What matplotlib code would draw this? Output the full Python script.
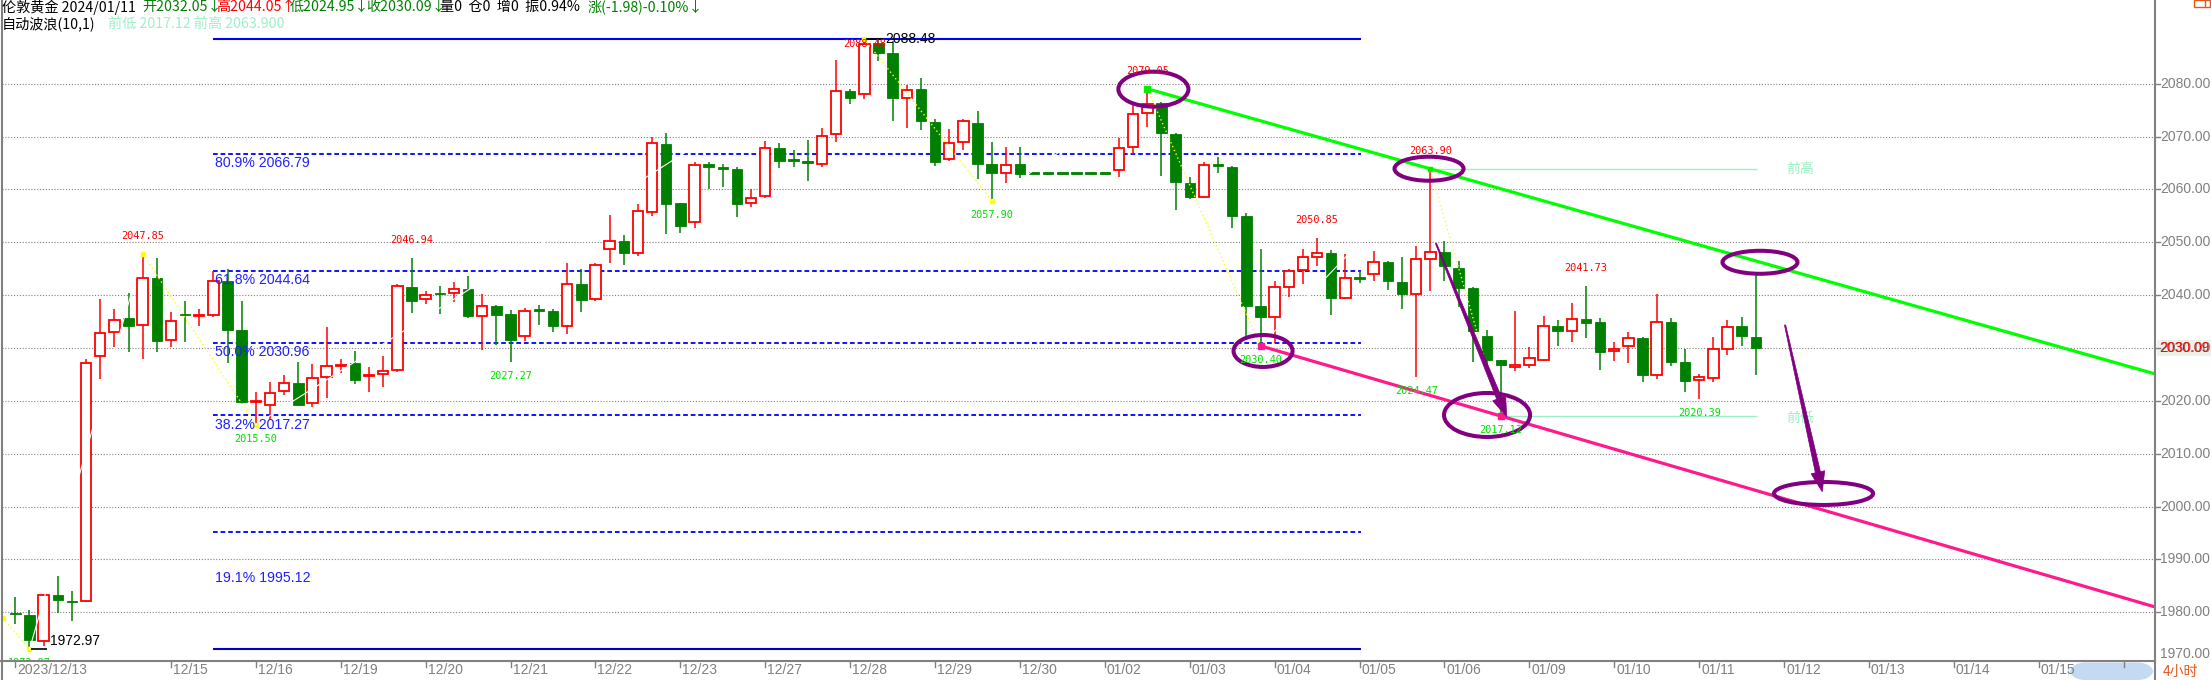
import numpy as np
import matplotlib
matplotlib.use("Agg")
import matplotlib.pyplot as plt
import matplotlib.transforms as mtransforms
from matplotlib.patches import Rectangle, Ellipse, Polygon, FancyBboxPatch
from matplotlib.lines import Line2D

W, H, DPI = 2211, 680, 100

# ---------------- London gold, 4-hour bars ----------------
opens = [1979.8, 1979.5, 1974.6, 1983.3, 1982.1, 1982.2, 2028.5, 2033.0, 2035.6, 2034.3,
         2043.3, 2031.5, 2036.4, 2036.1, 2036.2, 2042.7, 2033.4, 2019.8, 2019.2, 2021.9,
         2023.4, 2019.6, 2024.6, 2026.6, 2027.2, 2024.7, 2025.0, 2025.8, 2041.5, 2039.2,
         2040.4, 2040.4, 2041.2, 2036.1, 2038.0, 2036.4, 2032.2, 2037.2, 2037.0, 2034.2,
         2042.1, 2039.2, 2048.7, 2050.2, 2047.9, 2055.8, 2068.6, 2057.4, 2053.8, 2064.8,
         2064.1, 2063.9, 2057.4, 2058.7, 2067.8, 2065.6, 2065.2, 2064.9, 2070.4, 2078.6,
         2078.0, 2087.8, 2085.9, 2077.3, 2079.0, 2072.7, 2065.7, 2068.9, 2072.5, 2064.9,
         2063.2, 2064.9, 2063.0, 2063.0, 2063.0, 2063.0, 2063.0, 2063.0, 2063.7, 2068.0,
         2074.4, 2076.3, 2070.4, 2061.2, 2058.6, 2064.7, 2064.2, 2055.0, 2038.0, 2035.9,
         2041.6, 2044.8, 2047.3, 2048.0, 2039.4, 2043.3, 2044.0, 2046.3, 2042.4, 2040.2,
         2046.8, 2048.1, 2045.1, 2041.3, 2032.3, 2027.8, 2026.5, 2026.7, 2027.7, 2034.2,
         2033.3, 2035.4, 2034.9, 2029.4, 2030.3, 2031.9, 2024.9, 2034.9, 2027.4, 2024.0,
         2024.3, 2029.9, 2034.2, 2032.05]
highs = [1982.9, 1980.4, 1983.4, 1986.9, 1984.0, 2027.9, 2039.3, 2037.4, 2040.4, 2047.85,
         2047.0, 2036.8, 2038.8, 2037.4, 2044.6, 2045.0, 2038.8, 2021.7, 2023.6, 2024.9,
         2027.4, 2027.0, 2033.9, 2027.9, 2029.4, 2026.5, 2028.5, 2042.2, 2046.94, 2040.8,
         2041.7, 2042.5, 2043.6, 2040.2, 2038.1, 2037.2, 2037.6, 2038.1, 2037.4, 2046.1,
         2045.0, 2046.1, 2055.2, 2051.4, 2057.2, 2070.0, 2070.6, 2057.4, 2065.2, 2065.2,
         2064.8, 2064.3, 2060.0, 2069.1, 2068.7, 2067.4, 2069.3, 2071.7, 2084.5, 2079.0,
         2088.48, 2088.3, 2088.1, 2079.7, 2081.0, 2073.3, 2071.5, 2073.3, 2074.8, 2068.9,
         2068.1, 2068.0, 2063.0, 2063.0, 2063.0, 2063.0, 2063.0, 2063.0, 2069.8, 2076.1,
         2079.05, 2076.6, 2070.7, 2062.3, 2065.2, 2066.1, 2064.4, 2055.6, 2048.7, 2042.6,
         2044.9, 2048.7, 2050.85, 2048.5, 2047.8, 2044.6, 2048.4, 2046.5, 2047.3, 2049.3,
         2063.90, 2050.3, 2046.5, 2041.5, 2033.4, 2027.8, 2037.0, 2030.1, 2036.1, 2035.3,
         2038.5, 2041.73, 2035.6, 2031.1, 2033.0, 2032.0, 2040.2, 2035.6, 2029.8, 2025.0,
         2032.0, 2035.3, 2035.8, 2044.05]
lows = [1977.7, 1972.97, 1973.6, 1979.9, 1978.3, 1982.0, 2024.1, 2030.2, 2029.3, 2027.9,
        2029.3, 2030.2, 2031.2, 2034.2, 2035.9, 2027.1, 2019.5, 2015.50, 2016.4, 2021.1,
        2019.2, 2018.9, 2020.6, 2025.3, 2023.2, 2021.6, 2022.7, 2025.4, 2036.7, 2038.4,
        2036.5, 2038.7, 2035.7, 2029.6, 2030.6, 2027.27, 2031.3, 2034.4, 2033.0, 2032.7,
        2036.8, 2038.9, 2046.0, 2045.7, 2047.4, 2055.0, 2051.5, 2051.8, 2052.8, 2060.0,
        2060.5, 2054.7, 2056.6, 2058.4, 2064.0, 2064.3, 2061.6, 2064.3, 2069.0, 2076.2,
        2077.1, 2084.3, 2073.0, 2071.7, 2071.2, 2064.5, 2065.4, 2067.4, 2062.0, 2057.90,
        2061.3, 2062.2, 2063.0, 2063.0, 2063.0, 2063.0, 2063.0, 2063.0, 2062.4, 2066.7,
        2071.9, 2062.5, 2056.2, 2058.2, 2058.4, 2063.2, 2052.8, 2032.0, 2030.40, 2030.9,
        2039.7, 2042.1, 2045.5, 2036.3, 2039.2, 2042.3, 2042.6, 2041.0, 2037.3, 2024.47,
        2040.7, 2042.7, 2037.7, 2027.4, 2026.8, 2017.12, 2025.7, 2026.2, 2027.6, 2030.4,
        2031.2, 2031.8, 2025.9, 2027.6, 2027.2, 2023.6, 2024.1, 2026.6, 2021.6, 2020.39,
        2023.6, 2028.7, 2030.3, 2024.95]
closes = [1979.6, 1974.7, 1983.3, 1982.3, 1981.9, 2027.1, 2032.8, 2035.3, 2034.2, 2043.2,
          2031.4, 2035.1, 2036.2, 2036.3, 2042.6, 2033.4, 2019.8, 2020.0, 2021.5, 2023.3,
          2019.3, 2024.3, 2026.6, 2026.8, 2024.0, 2024.9, 2025.6, 2041.7, 2038.8, 2040.0,
          2040.2, 2041.1, 2036.1, 2037.9, 2036.3, 2031.5, 2037.0, 2037.0, 2034.2, 2042.1,
          2039.1, 2045.7, 2050.2, 2047.9, 2055.9, 2068.7, 2057.3, 2053.0, 2064.7, 2064.3,
          2063.9, 2057.3, 2058.3, 2067.8, 2065.4, 2065.4, 2065.0, 2070.2, 2078.6, 2077.3,
          2087.6, 2085.8, 2077.3, 2078.9, 2073.0, 2065.2, 2068.7, 2072.9, 2064.8, 2063.2,
          2064.7, 2063.0, 2063.0, 2063.0, 2063.0, 2063.0, 2063.0, 2063.0, 2067.8, 2074.2,
          2076.1, 2070.6, 2061.5, 2058.6, 2064.7, 2064.5, 2055.0, 2038.0, 2035.9, 2041.5,
          2044.6, 2047.3, 2047.9, 2039.5, 2043.2, 2043.1, 2046.2, 2042.7, 2040.2, 2046.8,
          2048.1, 2045.5, 2041.3, 2033.2, 2027.8, 2026.7, 2026.7, 2028.1, 2034.2, 2033.3,
          2035.4, 2034.8, 2029.3, 2029.8, 2031.9, 2024.8, 2034.9, 2027.4, 2023.8, 2024.5,
          2029.8, 2034.0, 2032.3, 2030.09]

date_ticks = [0, 11, 17, 23, 29, 35, 41, 47, 53, 59, 65, 71, 77, 83, 89, 95, 101, 107,
              113, 119, 125, 131, 137, 143, 149]
date_labels = ["2023/12/13", "12/15", "12/16", "12/19", "12/20", "12/21", "12/22", "12/23",
               "12/27", "12/28", "12/29", "12/30", "01/02", "01/03", "01/04", "01/05",
               "01/06", "01/09", "01/10", "01/11", "01/12", "01/13", "01/14", "01/15", ""]

price_grid = [1980, 1990, 2000, 2010, 2020, 2030, 2040, 2050, 2060, 2070, 2080]
price_labels = [1970, 1980, 1990, 2000, 2010, 2020, 2030, 2040, 2050, 2060, 2070, 2080]
last_price = 2030.09

# Fibonacci retracement of the 1972.97 -> 2088.48 swing
range_high = 2088.48
range_low = 1972.97
fib_pcts = ["80.9%", "61.8%", "50.0%", "38.2%", "19.1%"]
fib_levels = [2066.79, 2044.64, 2030.96, 2017.27, 1995.12]
fib_start, fib_end = 14, 95.1

# swing highs / lows with their printed values
swing_hi_idx = [9, 28, 60, 80, 92, 100, 111]
swing_hi_val = [2047.85, 2046.94, 2088.48, 2079.05, 2050.85, 2063.90, 2041.73]
swing_lo_idx = [17, 35, 69, 88, 99, 105, 119]
swing_lo_val = [2015.50, 2027.27, 2057.90, 2030.40, 2024.47, 2017.12, 2020.39]

# automatic wave zig-zag
wave_idx = [-0.9, 1, 9, 17, 60, 69, 80, 88, 100, 105]
wave_val = [1979.0, 1972.97, 2047.85, 2015.50, 2088.48, 2057.90, 2079.05, 2030.40, 2063.90, 2017.12]

# channel anchors
upper_anchor_idx, upper_anchor_val = [80, 100], [2079.05, 2063.90]
lower_anchor_idx, lower_anchor_val = [88, 105], [2030.40, 2017.12]
prev_high, prev_low = 2063.90, 2017.12

# ---------------- figure / axes geometry ----------------
fig = plt.figure(figsize=(W / DPI, H / DPI), dpi=DPI)
fig.patch.set_facecolor("white")

PL, PR, PB = 1.7, 2155.0, 661.0          # plot area edges in pixels
XSTEP, X0 = 14.15, 15.3                   # pixels per bar, centre of bar 0
YSTEP, PREF, YREF = 5.2857, 2050.0, 242.3 # pixels per dollar, reference level

ax = fig.add_axes([PL / W, 1 - PB / H, (PR - PL) / W, PB / H])
ax.set_axis_off()
ax.set_xlim((PL - X0) / XSTEP, (PR - X0) / XSTEP)
ax.set_ylim(PREF - (PB - YREF) / YSTEP, PREF + YREF / YSTEP)
XMAX = ax.get_xlim()[1]

def fx(x):
    return x / W

def fy(y):
    return 1 - y / H

fig_y_data = mtransforms.blended_transform_factory(fig.transFigure, ax.transData)
data_x_fig = mtransforms.blended_transform_factory(ax.transData, fig.transFigure)

GRAY = "#808080"
RED = "#ff0000"
GREEN = "#008000"
BLUE = "#1f1fff"
LIGHT = "#9cf0c6"
PURPLE = "#800080"
CJK = ["Noto Sans CJK SC", "DejaVu Sans"]
SANS = "Liberation Sans"
MONO = "DejaVu Sans Mono"

# horizontal dotted grid
for v in price_grid:
    ax.axhline(v, color=GRAY, lw=0.8, ls=(0, (1, 1.6)), zorder=1)

# Fibonacci levels and range lines
fib_text_drop = [9.5, 9.5, 9.5, 9.5, 46.0]   # label distance below its level, px
for pct, lv, drop in zip(fib_pcts, fib_levels, fib_text_drop):
    ax.hlines(lv, fib_start, fib_end, colors="#0000ff", lw=1.3, linestyles=(0, (2.6, 1.6)), zorder=2)
    ax.annotate(f"{pct} {lv:.2f}", xy=(fib_start, lv), xytext=(1, -drop * 0.72),
                textcoords="offset points", ha="left", va="center", color=BLUE,
                fontsize=10.2, family=SANS, zorder=7)
ax.hlines([range_high, range_low], fib_start, fib_end, colors=["#0000ff", "#0000cc"], lw=1.5, zorder=2)

# previous high / low guides
ax.hlines(prev_high, 100, 123.1, colors=LIGHT, lw=1.0, zorder=2)
ax.hlines(prev_low, 105, 123.1, colors=LIGHT, lw=1.0, zorder=2)
ax.annotate("前高", xy=(123.1, prev_high), xytext=(29 * 0.72, 0), textcoords="offset points",
            ha="left", va="center", color=LIGHT, fontsize=10, family=CJK, zorder=7)
ax.annotate("前低", xy=(123.1, prev_low), xytext=(29 * 0.72, -2 * 0.72), textcoords="offset points",
            ha="left", va="center", color=LIGHT, fontsize=10, family=CJK, zorder=5)

# candlesticks
BW = 0.74
for i, (o, h, l, c) in enumerate(zip(opens, highs, lows, closes)):
    if c >= o and h != l:
        ax.vlines(i, c, h, color=RED, lw=1.1, zorder=3)
        ax.vlines(i, l, o, color=RED, lw=1.1, zorder=3)
        ax.add_patch(Rectangle((i - BW / 2, o), BW, max(c - o, 0.12), facecolor="white",
                               edgecolor=RED, lw=1.3, zorder=3))
    else:
        ax.vlines(i, l, h, color=GREEN, lw=1.1, zorder=3)
        ax.add_patch(Rectangle((i - BW / 2, c), BW, max(o - c, 0.3), facecolor=GREEN,
                               edgecolor=GREEN, lw=0.6, zorder=3))

# zig-zag: falling legs dotted yellow, rising legs in white
for k in range(len(wave_idx) - 1):
    xs = wave_idx[k:k + 2]
    ys = wave_val[k:k + 2]
    if ys[1] < ys[0]:
        ax.plot(xs, ys, color="#ffff00", lw=1.0, ls=(0, (1, 2)), zorder=4)
        ax.plot(xs[1:], ys[1:], "s", color="#ffff00", ms=2.6, zorder=4)
        ax.plot(xs[:1], ys[:1], "s", color="#ffff00", ms=2.6, zorder=4)
    else:
        ax.plot(xs, ys, color="white", lw=0.8, zorder=4)

# descending channel lines
def extend(xa, ya, xend):
    slope = (ya[1] - ya[0]) / (xa[1] - xa[0])
    return [xa[0], xend], [ya[0], ya[0] + slope * (xend - xa[0])]

ux, uy = extend(upper_anchor_idx, upper_anchor_val, XMAX)
lx, ly = extend(lower_anchor_idx, lower_anchor_val, XMAX)
ax.plot(ux, uy, color="#00ff00", lw=2.3, zorder=5, solid_capstyle="butt")
ax.plot(lx, ly, color="#ff1a8c", lw=2.3, zorder=5, solid_capstyle="butt")
ax.plot(upper_anchor_idx[0], upper_anchor_val[0], "s", color="#00ee00", ms=4.5, zorder=5)
ax.plot(upper_anchor_idx[1], upper_anchor_val[1], "s", color="#00ee00", ms=3.5, zorder=5)
ax.plot(lower_anchor_idx, lower_anchor_val, "s", color="#ff1a8c", ms=4, zorder=5)

# swing value labels
for i, v in zip(swing_hi_idx, swing_hi_val):
    off = 5 if v == range_high else -18
    ax.annotate(f"{v:.2f}", xy=(i, v), xytext=(0, -off * 0.72), textcoords="offset points",
                ha="center", va="center", color=RED, fontsize=7.4, family=MONO, zorder=7)
for i, v in zip(swing_lo_idx, swing_lo_val):
    ax.annotate(f"{v:.2f}", xy=(i, v), xytext=(0, -14 * 0.72), textcoords="offset points",
                ha="center", va="center", color="#00e000", fontsize=7.4, family=MONO, zorder=7)

# extreme markers of the retracement range
ax.hlines(range_high, 60.1, 61.3, colors="black", lw=1.2, zorder=6)
ax.annotate(f"{range_high:.2f}", xy=(61.3, range_high), xytext=(3 * 0.72, 0), textcoords="offset points",
            ha="left", va="center", color="black", fontsize=10, family=SANS, zorder=7)
ax.hlines(range_low, 1.08, 2.22, colors="black", lw=1.2, zorder=6)
ax.annotate(f"{range_low:.2f}", xy=(2.22, range_low), xytext=(3 * 0.72, 8.8 * 0.72), textcoords="offset points",
            ha="left", va="center", color="black", fontsize=10, family=SANS, zorder=7)
low_tag = ax.annotate(f"{range_low:.2f}", xy=(1, range_low), xytext=(0, -8.5 * 0.72),
                      textcoords="offset points", ha="center", va="top", color="#00e000",
                      fontsize=7.4, family=MONO, zorder=7, annotation_clip=False)
low_tag.set_clip_on(True)
low_tag.set_clip_path(ax.patch)

# highlighted zones
ellipses = [(80.43, 2078.97, 4.95, 6.62), (99.91, 2063.92, 4.88, 4.54),
            (88.18, 2029.44, 4.17, 6.05), (104.01, 2017.33, 6.08, 8.32),
            (123.3, 2046.22, 5.3, 4.35), (127.79, 2002.48, 7.0, 4.35)]
for cx, cy, ew, eh in ellipses:
    ax.add_patch(Ellipse((cx, cy), ew, eh, fill=False, edgecolor=PURPLE, lw=2.9, zorder=6))

def tapered_arrow(x0, y0, x1, y1, color):
    # shape is laid out in pixel units, then mapped back to bar/price units
    p0 = np.array([x0 * XSTEP, y0 * YSTEP])
    p1 = np.array([x1 * XSTEP, y1 * YSTEP])
    d = p1 - p0
    u = d / np.hypot(*d)
    nv = np.array([-u[1], u[0]])
    head_len, head_w, w0, w1 = 20.0, 7.0, 0.6, 2.6
    base = p1 - u * head_len
    pts = [p0 + nv * w0, base + nv * w1, base + nv * head_w, p1,
           base - nv * head_w, base - nv * w1, p0 - nv * w0]
    pts = [(q[0] / XSTEP, q[1] / YSTEP) for q in pts]
    ax.add_patch(Polygon(pts, closed=True, facecolor=color, edgecolor=color, lw=0.5, zorder=6))

tapered_arrow(100.4, 2049.8, 105.4, 2017.0, PURPLE)
tapered_arrow(125.07, 2034.35, 127.7, 2002.8, PURPLE)

# ---------------- frame, axes and scales ----------------
fig.add_artist(Line2D([fx(PL), fx(PL)], [0, 1], color=GRAY, lw=1.5))
fig.add_artist(Line2D([fx(PR), fx(PR)], [0, 1], color=GRAY, lw=1.5))
fig.add_artist(Line2D([0, fx(PR)], [fy(PB), fy(PB)], color=GRAY, lw=1.5))

# date scrollbar highlight
fig.add_artist(FancyBboxPatch((fx(2068), fy(680)), fx(2155) - fx(2068), fy(662.5) - fy(680),
                              boxstyle="round,pad=0,rounding_size=0.008", facecolor="#c4daf3",
                              edgecolor="none", transform=fig.transFigure, mutation_aspect=3.2))

date_text_tf = mtransforms.offset_copy(data_x_fig, fig=fig, x=2 * 0.72, y=0, units="points")
for t, lab in zip(date_ticks, date_labels):
    fig.add_artist(Line2D([t, t], [fy(PB), fy(667)], color=GRAY, lw=1.0, transform=data_x_fig))
    if lab:
        fig.text(t, fy(670.5), lab, transform=date_text_tf,
                 ha="left", va="center", color=GRAY, fontsize=10, family=SANS)

for v in price_labels:
    if v == 1970:
        fig.text(fx(2160), fy(654), f"{v:.2f}", ha="left", va="center", color=GRAY,
                 fontsize=10, family=SANS)
        continue
    fig.add_artist(Line2D([fx(PR), fx(2159.5)], [v, v], color=GRAY, lw=1.0, transform=fig_y_data))
    fig.text(fx(2160), v, f"{v:.2f}", transform=fig_y_data, ha="left", va="center",
             color=GRAY, fontsize=10, family=SANS)

# last price tag
tag_y = ax.transData.transform((0, last_price))[1] / H
fig.add_artist(Rectangle((fx(2157), tag_y - 8 / H), fx(2211) - fx(2157), 16 / H,
                         facecolor="#eaf3ea", edgecolor="none", transform=fig.transFigure))
fig.text(fx(2159), last_price, f"{last_price:.2f}", transform=fig_y_data, ha="left", va="center",
         color=RED, fontsize=10, family=SANS)

fig.text(fx(2163), fy(671.5), "4小时", ha="left", va="center", color="#e8561c", fontsize=10, family=CJK)
fig.add_artist(Rectangle((fx(2194), fy(7)), fx(2210) - fx(2194), 7 / H, fill=False,
                         edgecolor="#e0581e", lw=1.0, transform=fig.transFigure))
fig.add_artist(Line2D([fx(2205), fx(2205)], [fy(7), 1], color="#e0581e", lw=1.0))

# ---------------- header ----------------
header = [(2, "伦敦黄金 2024/01/11", "black"),
          (142, "开2032.05↓", GREEN),
          (216.5, "高2044.05↑", RED),
          (290, "低2024.95↓", GREEN),
          (366, "收2030.09↓", GREEN),
          (440, "量0  仓0  增0  振0.94%", "black"),
          (588, "涨(-1.98)-0.10%↓", GREEN)]
for x, s, col in header:
    fig.text(fx(x), fy(7), s, ha="left", va="center", color=col, fontsize=10.2, family=CJK)
fig.text(fx(2), fy(24), "自动波浪(10,1)", ha="left", va="center", color="black", fontsize=10.2, family=CJK)
fig.text(fx(108.5), fy(24), "前低 2017.12 前高 2063.900", ha="left", va="center", color=LIGHT,
         fontsize=10.2, family=CJK)

fig.savefig("out.png", dpi=DPI, facecolor="white")
